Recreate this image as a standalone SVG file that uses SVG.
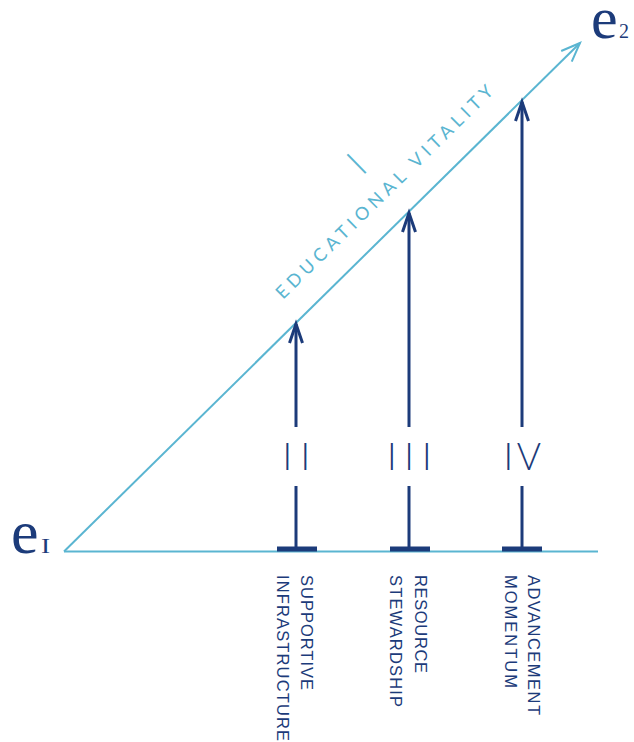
<svg xmlns="http://www.w3.org/2000/svg" width="634" height="742" viewBox="0 0 634 742">
<style>
.navy{fill:#1c3b7a}
.num{font-family:Lato,"Open Sans","Liberation Sans",sans-serif;font-weight:300;font-size:37px;fill:#1c3b7a}
.lab{font-family:"Liberation Sans",Arial,sans-serif;font-size:16.5px;fill:#1c3b7a}
.diag{font-family:Lato,"Liberation Sans",Arial,sans-serif;font-weight:400;font-size:18px;fill:#5ab5d1}
.e{font-family:"Liberation Serif","Times New Roman",serif;fill:#1c3b7a}
.arr{stroke:#1c3b7a;stroke-width:3;fill:none}
.axis{stroke:#5ab5d1;stroke-width:2;fill:none}
</style>
<defs>
<marker id="mN" markerUnits="userSpaceOnUse" orient="auto" refX="0" refY="0" overflow="visible" markerWidth="1" markerHeight="1">
<path d="M-19,-6.5 L0,0 L-19,6.5" fill="none" stroke="#1c3b7a" stroke-width="3"/>
</marker>
<marker id="mL" markerUnits="userSpaceOnUse" orient="auto" refX="0" refY="0" overflow="visible" markerWidth="1" markerHeight="1">
<path d="M-19,-7.5 L0,0 L-19,7.5" fill="none" stroke="#5ab5d1" stroke-width="2"/>
</marker>
</defs>
<g id="connectors">
<line class="axis" x1="64" y1="551.5" x2="598" y2="551.5"/>
<line class="axis" x1="64" y1="551.5" x2="580" y2="43" marker-end="url(#mL)"/>
<line class="arr" x1="296" y1="548" x2="296" y2="486"/>
<line class="arr" x1="296" y1="427" x2="296" y2="324" marker-end="url(#mN)"/>
<line class="arr" x1="409" y1="548" x2="409" y2="486"/>
<line class="arr" x1="409" y1="427" x2="409" y2="213" marker-end="url(#mN)"/>
<line class="arr" x1="522" y1="548" x2="522" y2="486"/>
<line class="arr" x1="522" y1="427" x2="522" y2="102" marker-end="url(#mN)"/>
</g>
<g id="e1">
<text class="e" x="11" y="553" font-size="62">e</text>
<text class="e" x="41" y="553" font-size="21" transform="translate(41,553) scale(1.3,1) translate(-41,-553)">I</text>
</g>
<g id="e2">
<text class="e" x="591" y="38" font-size="60">e</text>
<text class="e" x="619" y="38" font-size="20">2</text>
</g>
<g id="node-I">
<text class="num" style="fill:#5ab5d1" transform="translate(365.7,173.2) rotate(-44.44)" text-anchor="middle">I</text>
<text class="diag" transform="translate(283,300) rotate(-44.44)" textLength="296" lengthAdjust="spacing">EDUCATIONAL VITALITY</text>
</g>
<g id="node-II">
<rect class="navy" x="277" y="546.5" width="40" height="5"/>
<text class="num" x="287.3 305.3" y="470" text-anchor="middle">II</text>
<text class="lab" transform="translate(301,575) rotate(90)" textLength="115" lengthAdjust="spacing">SUPPORTIVE</text>
<text class="lab" transform="translate(277,575) rotate(90)" textLength="166" lengthAdjust="spacing">INFRASTRUCTURE</text>
</g>
<g id="node-III">
<rect class="navy" x="390" y="546.5" width="40" height="5"/>
<text class="num" x="391.7 409 426.7" y="470" text-anchor="middle">III</text>
<text class="lab" transform="translate(414.5,575) rotate(90)" textLength="98" lengthAdjust="spacing">RESOURCE</text>
<text class="lab" transform="translate(390,575) rotate(90)" textLength="132" lengthAdjust="spacing">STEWARDSHIP</text>
</g>
<g id="node-IV">
<rect class="navy" x="502" y="546.5" width="40" height="5"/>
<text class="num" x="508.3 529" y="470" text-anchor="middle">IV</text>
<text class="lab" transform="translate(528,575) rotate(90)" textLength="140" lengthAdjust="spacing">ADVANCEMENT</text>
<text class="lab" transform="translate(505,575) rotate(90)" textLength="113" lengthAdjust="spacing">MOMENTUM</text>
</g>
</svg>
